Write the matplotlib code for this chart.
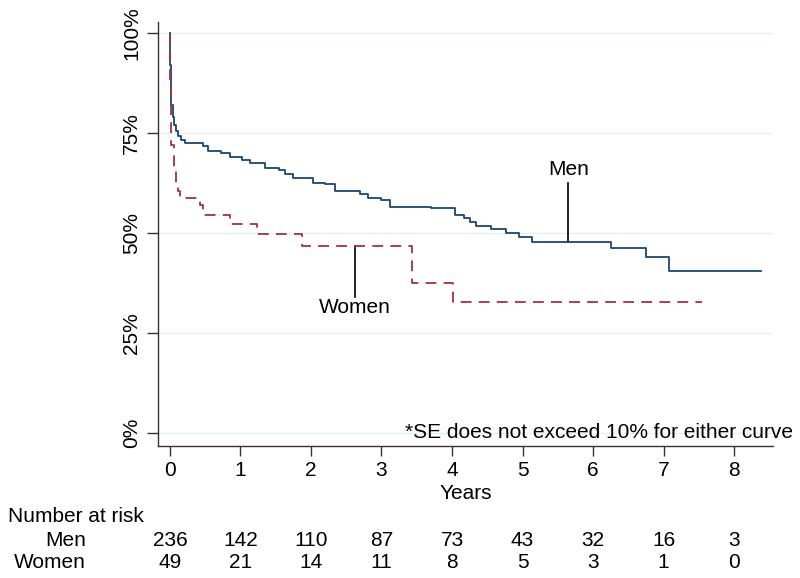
import matplotlib
matplotlib.use("Agg")
import matplotlib.pyplot as plt
import matplotlib.transforms as mtransforms
from matplotlib.ticker import FuncFormatter

# Kaplan-Meier survival, step points (years, percent surviving)
men_t = [0, 0.003, 0.01, 0.02, 0.04, 0.06, 0.09, 0.12, 0.16, 0.22, 0.47, 0.54,
         0.73, 0.85, 1.02, 1.13, 1.35, 1.54, 1.63, 1.75, 2.03, 2.20, 2.34, 2.70,
         2.81, 3.00, 3.12, 3.70, 4.04, 4.17, 4.26, 4.34, 4.55, 4.77, 4.95, 5.13,
         6.25, 6.75, 7.08, 8.38]
men_s = [100, 92, 86, 82, 79, 77, 75.5, 74.2, 73.2, 72.4, 71.75, 70.6,
         69.9, 69.1, 68.25, 67.4, 66.3, 65.75, 64.75, 63.7, 62.6, 62.2, 60.6, 59.75,
         58.7, 58.25, 56.6, 56.2, 54.5, 53.7, 52.8, 51.75, 50.9, 49.9, 48.9, 47.7,
         46.2, 43.9, 40.5, 40.5]

women_t = [0, 0.003, 0.01, 0.02, 0.05, 0.08, 0.11, 0.14, 0.43, 0.47, 0.85,
           1.23, 1.87, 3.43, 4.02, 7.54]
women_s = [100, 88, 82, 72, 66, 62, 60.5, 58.8, 57, 54.5, 52.25,
           49.75, 46.75, 37.4, 32.8, 32.8]

risk_years = [0, 1, 2, 3, 4, 5, 6, 7, 8]
risk_men = [236, 142, 110, 87, 73, 43, 32, 16, 3]
risk_women = [49, 21, 14, 11, 8, 5, 3, 1, 0]

y_ticks = [0, 25, 50, 75, 100]

NAVY = "#1a476f"
MAROON = "#a0343b"
GRID = "#e6eff1"
FS = 15

plt.rcParams["font.family"] = ["Liberation Sans", "DejaVu Sans"]

fig = plt.figure(figsize=(8, 5.78), dpi=100)
ax = fig.add_axes([0.1975, 0.2284, 0.966 - 0.1975, 0.962 - 0.2284])

for y in y_ticks:
    ax.axhline(y, color=GRID, lw=1.0, zorder=0)

ax.step(men_t, men_s, where="post", color=NAVY, lw=1.3, zorder=3)
ax.step(women_t, women_s, where="post", color=MAROON, lw=1.3,
        dashes=(6, 4), zorder=4)

# curve labels
ax.text(5.65, 65.75, "Men", ha="center", va="center", fontsize=FS)
ax.plot([5.65, 5.65], [62.4, 47.7], color="black", lw=1.2)
ax.text(2.62, 31.25, "Women", ha="center", va="center", fontsize=FS)
ax.plot([2.62, 2.62], [46.75, 34.1], color="black", lw=1.2)

ax.set_xlim(-0.17, 8.55)
ax.set_ylim(-3.25, 102.75)
ax.set_xticks(risk_years)
ax.set_yticks(y_ticks)
ax.yaxis.set_major_formatter(FuncFormatter(lambda v, p: f"{v:.0f}%"))
ax.tick_params(axis="y", labelsize=FS, length=8, width=1, color="#333333",
               pad=4, labelrotation=90)
ax.tick_params(axis="x", labelsize=FS, length=7, width=1, color="#333333", pad=4)
for lab in ax.get_yticklabels():
    lab.set_va("center")

for side in ["top", "right"]:
    ax.spines[side].set_visible(False)
for side in ["left", "bottom"]:
    ax.spines[side].set_color("#333333")
    ax.spines[side].set_linewidth(1.0)

ax.set_xlabel("Years", fontsize=FS, labelpad=3)

fig.text(0.991, (578 - 432) / 578, "*SE does not exceed 10% for either curve",
         ha="right", va="center", fontsize=FS)

# number at risk table
trans = mtransforms.blended_transform_factory(ax.transData, fig.transFigure)
fig.text(8 / 800, (578 - 517) / 578, "Number at risk", ha="left", va="center",
         fontsize=FS)
fig.text(86 / 800, (578 - 540) / 578, "Men", ha="right", va="center", fontsize=FS)
fig.text(86 / 800, (578 - 563) / 578, "Women", ha="right", va="center", fontsize=FS)
for yr, m, w in zip(risk_years, risk_men, risk_women):
    ax.text(yr, (578 - 540) / 578, str(m), transform=trans, ha="center",
            va="center", fontsize=FS, clip_on=False)
    ax.text(yr, (578 - 563) / 578, str(w), transform=trans, ha="center",
            va="center", fontsize=FS, clip_on=False)

fig.savefig("out.png", dpi=100)
